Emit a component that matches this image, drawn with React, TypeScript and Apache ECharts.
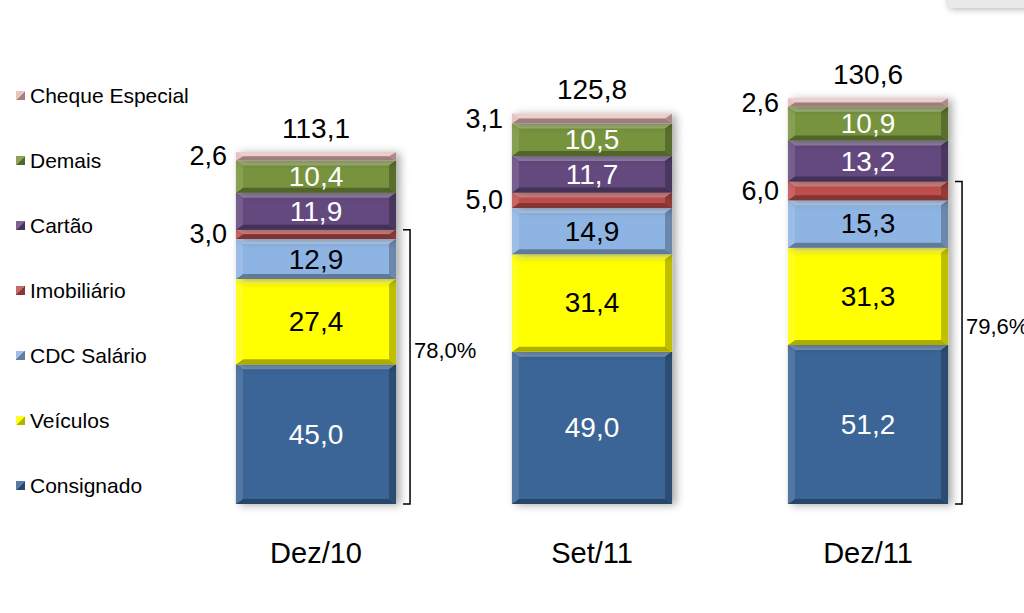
import React, { useEffect, useRef } from "react";
import * as echarts from "echarts";

const categories = ["Dez/10", "Set/11", "Dez/11"];
const seriesNames = ["Consignado", "Veículos", "CDC Salário", "Imobiliário", "Cartão", "Demais", "Cheque Especial"];
const consignado = [45.0, 49.0, 51.2];
const veiculos = [27.4, 31.4, 31.3];
const cdcSalario = [12.9, 14.9, 15.3];
const imobiliario = [3.0, 5.0, 6.0];
const cartao = [11.9, 11.7, 13.2];
const demais = [10.4, 10.5, 10.9];
const chequeEspecial = [2.6, 3.1, 2.6];
const totals = [113.1, 125.8, 130.6];
const bracketLabels = ["78,0%", "", "79,6%"];
const bracketSegments = 4;

const seriesValues = [consignado, veiculos, cdcSalario, imobiliario, cartao, demais, chequeEspecial];
const colors = ["#3A6597", "#FFFF00", "#8EB4E3", "#C0504D", "#63497E", "#77933C", "#E6B9B8"];
const labelColors = ["#ffffff", "#000000", "#000000", "#000000", "#ffffff", "#ffffff", "#000000"];

const FONT = "'Liberation Sans', Arial, sans-serif";

function fmt(v: number) {
  return v.toFixed(1).replace(".", ",");
}

function mix(hex: string, target: number, amt: number) {
  const n = parseInt(hex.slice(1), 16);
  const r = (n >> 16) & 255, g = (n >> 8) & 255, b = n & 255;
  const f = (c: number) => Math.round(c + (target - c) * amt);
  return "rgb(" + f(r) + "," + f(g) + "," + f(b) + ")";
}

const bases: number[][] = [];
{
  const acc = categories.map(() => 0);
  seriesValues.forEach((vals) => {
    bases.push(acc.slice());
    vals.forEach((v, i) => (acc[i] += v));
  });
}
const bracketTops = categories.map((_, i) => {
  let s = 0;
  for (let k = 0; k < bracketSegments; k++) s += seriesValues[k][i];
  return s;
});

const BAR_RATIO = 0.58;

function makeSegmentSeries(si: number) {
  const color = colors[si];
  const light = mix(color, 255, 0.3);
  const lightSide = mix(color, 255, 0.12);
  const darkSide = mix(color, 0, 0.25);
  const dark = mix(color, 0, 0.32);
  return {
    type: "custom",
    name: seriesNames[si],
    itemStyle: { color },
    encode: { x: 0, y: [1, 2] },
    data: seriesValues[si].map((v, i) => [i, bases[si][i], bases[si][i] + v, v]),
    renderItem: (params: any, api: any) => {
      const ci = api.value(0);
      const y0 = api.value(1);
      const y1 = api.value(2);
      const v = api.value(3);
      const pb = api.coord([ci, y0]);
      const pt = api.coord([ci, y1]);
      const bw = api.size([1, 0])[0] * BAR_RATIO;
      const L = pb[0] - bw / 2, R = pb[0] + bw / 2, B = pb[1], T = pt[1];
      const h = B - T;
      const t = Math.min(5, h / 2);
      const s = 7;
      const children: any[] = [
        {
          type: "rect",
          shape: { x: L, y: T, width: bw, height: h },
          style: { fill: color, shadowBlur: 8, shadowOffsetX: 4, shadowOffsetY: 1, shadowColor: "rgba(0,0,0,0.35)" },
        },
        { type: "polygon", shape: { points: [[L, T], [R, T], [R - s, T + t], [L + s, T + t]] }, style: { fill: light } },
        { type: "polygon", shape: { points: [[L, B], [R, B], [R - s, B - t], [L + s, B - t]] }, style: { fill: dark } },
        { type: "polygon", shape: { points: [[L, T], [L + s, T + t], [L + s, B - t], [L, B]] }, style: { fill: lightSide } },
        { type: "polygon", shape: { points: [[R, T], [R - s, T + t], [R - s, B - t], [R, B]] }, style: { fill: darkSide } },
      ];
      if (v < 7) {
        children.push({
          type: "text",
          x: L - 9,
          y: (T + B) / 2,
          style: { text: fmt(v), fill: "#000", fontSize: 27, fontFamily: FONT, align: "right", verticalAlign: "middle" },
        });
      } else {
        children.push({
          type: "text",
          x: (L + R) / 2,
          y: (T + B) / 2,
          style: { text: fmt(v), fill: labelColors[si], fontSize: 28, fontFamily: FONT, align: "center", verticalAlign: "middle" },
        });
      }
      return { type: "group", children };
    },
    z: 2,
  };
}

export default function App() {
  const ref = useRef<HTMLDivElement>(null);
  useEffect(() => {
    if (!ref.current) return;
    const chart = echarts.init(ref.current, undefined, { renderer: "svg" });
    const legendData = seriesNames
      .map((name, si) => ({
        name,
        itemStyle: {
          color: new echarts.graphic.LinearGradient(0, 0, 1, 1, [
            { offset: 0, color: mix(colors[si], 255, 0.15) },
            { offset: 0.5, color: mix(colors[si], 255, 0.15) },
            { offset: 0.5, color: mix(colors[si], 0, 0.3) },
            { offset: 1, color: mix(colors[si], 0, 0.3) },
          ]),
        },
      }))
      .reverse();
    const option: any = {
      animation: false,
      backgroundColor: "#ffffff",
      grid: { left: 178, right: 18, top: 38, bottom: 109 },
      xAxis: {
        type: "category",
        data: categories,
        axisLine: { show: false },
        axisTick: { show: false },
        axisLabel: { margin: 34, fontSize: 29, color: "#000", fontFamily: FONT },
      },
      yAxis: { type: "value", min: 0, max: 150, show: false, splitLine: { show: false } },
      legend: {
        orient: "vertical",
        left: 11,
        top: 80,
        icon: "rect",
        itemWidth: 9,
        itemHeight: 9,
        itemGap: 44,
        textStyle: { fontSize: 21, lineHeight: 21, color: "#000", fontFamily: FONT },
        data: legendData,
        selectedMode: false,
      },
      graphic: [
        {
          type: "rect",
          shape: { x: 948, y: -14, width: 100, height: 22, r: 6 },
          style: { fill: "#e9e9e9", shadowBlur: 6, shadowOffsetY: 2, shadowColor: "rgba(0,0,0,0.25)" },
        },
      ],
      series: [
        ...seriesValues.map((_, si) => makeSegmentSeries(si)),
        {
          type: "custom",
          name: "Total",
          encode: { x: 0, y: 1 },
          data: totals.map((t, i) => [i, t]),
          renderItem: (params: any, api: any) => {
            const p = api.coord([api.value(0), api.value(1)]);
            return {
              type: "text",
              x: p[0],
              y: p[1] - 24,
              style: { text: fmt(api.value(1)), fill: "#000", fontSize: 28, fontFamily: FONT, align: "center", verticalAlign: "middle" },
            };
          },
          z: 3,
        },
        {
          type: "custom",
          name: "Bracket",
          encode: { x: 0, y: 1 },
          data: bracketTops.map((t, i) => [i, t]).filter((d) => bracketLabels[d[0]] !== ""),
          renderItem: (params: any, api: any) => {
            const ci = api.value(0);
            const pt = api.coord([ci, api.value(1)]);
            const pb = api.coord([ci, 0]);
            const bw = api.size([1, 0])[0] * BAR_RATIO;
            const x = pt[0] + bw / 2 + 14;
            return {
              type: "group",
              children: [
                {
                  type: "polyline",
                  shape: { points: [[x - 7, pt[1]], [x, pt[1]], [x, pb[1]], [x - 7, pb[1]]] },
                  style: { stroke: "#000", lineWidth: 1.5, fill: "none" },
                },
                {
                  type: "text",
                  x: x + 4,
                  y: (pt[1] + pb[1]) / 2 - 16,
                  style: { text: bracketLabels[ci], fill: "#000", fontSize: 22, fontFamily: FONT, align: "left", verticalAlign: "middle" },
                },
              ],
            };
          },
          z: 3,
        },
      ],
    };
    chart.setOption(option);
    return () => chart.dispose();
  }, []);
  return <div ref={ref} style={{ position: "fixed", left: 0, top: 0, width: 1024, height: 613 }} />;
}
